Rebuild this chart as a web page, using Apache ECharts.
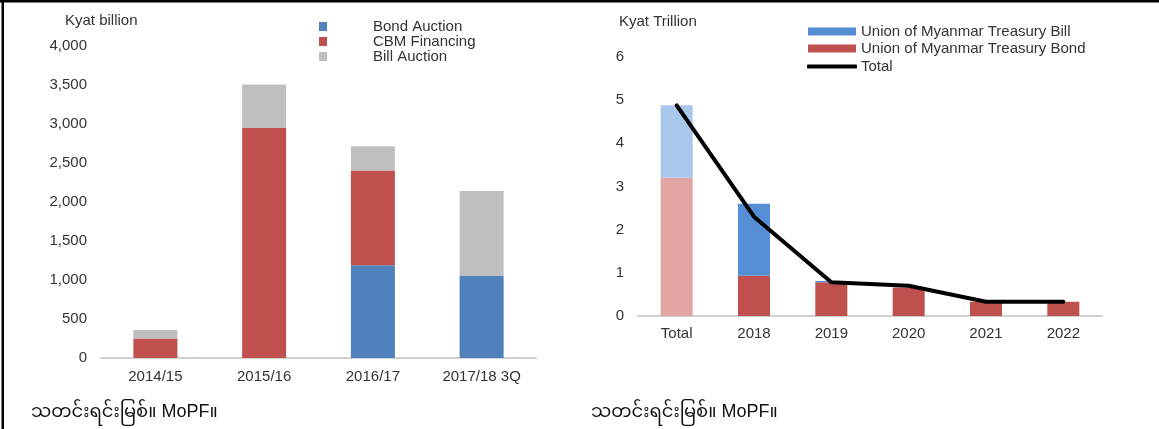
<!DOCTYPE html>
<html>
<head>
<meta charset="utf-8">
<script src="https://cdn.jsdelivr.net/npm/echarts@6/dist/echarts.min.js"></script>
<style>
  html, body { margin: 0; padding: 0; background: #fff; }
  #main { width: 1159px; height: 429px; }
</style>
</head>
<body>
<div id="main"></div>
<script>
// left panel - Kyat billion
var yearsL = ['2014/15', '2015/16', '2016/17', '2017/18 3Q'];
var bondAuction = [0, 0, 1190, 1050];
var cbmFinancing = [250, 2950, 1215, 0];
var billAuction = [110, 555, 310, 1090];

// right panel - Kyat Trillion
var yearsR = ['Total', '2018', '2019', '2020', '2021', '2022'];
var treasuryBill = [1.68, 1.67, 0.03, 0, 0, 0];
var treasuryBond = [3.2, 0.93, 0.78, 0.66, 0.33, 0.33];
var totalLine = [4.88, 2.3, 0.78, 0.7, 0.33, 0.33];

var sourceText = 'သတင်းရင်းမြစ်။ MoPF။';
var FONT = '"Liberation Sans", Arial, "Noto Sans Myanmar", Padauk, sans-serif';

var chart = echarts.init(document.getElementById('main'));

var option = {
  animation: false,
  textStyle: { fontFamily: FONT },
  title: [
    { text: 'Kyat billion', left: 65, top: 13, padding: 0,
      textStyle: { fontSize: 15, fontWeight: 'normal', color: '#333', fontFamily: FONT } },
    { text: 'Kyat Trillion', left: 619, top: 14, padding: 0,
      textStyle: { fontSize: 15, fontWeight: 'normal', color: '#333', fontFamily: FONT } }
  ],
  legend: [
    {
      // left legend
      orient: 'vertical', left: 319, top: 19, padding: 0,
      icon: 'rect', itemWidth: 8, itemHeight: 9, itemGap: 0,
      data: ['Bond Auction', 'CBM Financing', 'Bill Auction'],
      textStyle: { fontSize: 15, color: '#333', lineHeight: 15, padding: [0, 0, 0, 41], fontFamily: FONT }
    },
    {
      orient: 'vertical', left: 808, top: 23, padding: 0,
      icon: 'rect', itemWidth: 48, itemHeight: 8, itemGap: 0,
      data: ['Union of Myanmar Treasury Bill', 'Union of Myanmar Treasury Bond'],
      textStyle: { fontSize: 15, color: '#333', lineHeight: 17, fontFamily: FONT }
    },
    {
      orient: 'vertical', left: 807, top: 58, padding: 0,
      icon: 'roundRect', itemWidth: 50, itemHeight: 4, itemGap: 0,
      data: ['Total'],
      textStyle: { fontSize: 15, color: '#333', lineHeight: 17, padding: [0, 0, 0, -1], fontFamily: FONT }
    }
  ],
  grid: [
    { left: 101, top: 46, width: 435, height: 312 },
    { left: 638, top: 57, width: 464, height: 259 }
  ],
  xAxis: [
    {
      gridIndex: 0, type: 'category', data: yearsL,
      axisLine: { lineStyle: { color: '#D0D0D0', width: 2 } },
      axisTick: { show: false },
      axisLabel: { fontSize: 15, color: '#333', margin: 11, fontFamily: FONT }
    },
    {
      gridIndex: 1, type: 'category', data: yearsR,
      axisLine: { lineStyle: { color: '#D0D0D0', width: 2 } },
      axisTick: { show: false },
      axisLabel: { fontSize: 15, color: '#333', margin: 10, fontFamily: FONT }
    }
  ],
  yAxis: [
    {
      gridIndex: 0, type: 'value', min: 0, max: 4000, interval: 500,
      splitLine: { show: false }, axisLine: { show: false }, axisTick: { show: false },
      axisLabel: {
        fontSize: 15, color: '#333', margin: 14, fontFamily: FONT,
        formatter: function (v) { return v.toLocaleString('en-US'); }
      }
    },
    {
      gridIndex: 1, type: 'value', min: 0, max: 6, interval: 1,
      splitLine: { show: false }, axisLine: { show: false }, axisTick: { show: false },
      axisLabel: { fontSize: 15, color: '#333', margin: 14, fontFamily: FONT }
    }
  ],
  series: [
    { name: 'Bond Auction', type: 'bar', stack: 'l', xAxisIndex: 0, yAxisIndex: 0,
      barWidth: 44, data: bondAuction, itemStyle: { color: '#4F81BD' } },
    { name: 'CBM Financing', type: 'bar', stack: 'l', xAxisIndex: 0, yAxisIndex: 0,
      barWidth: 44, data: cbmFinancing, itemStyle: { color: '#C0504D' } },
    { name: 'Bill Auction', type: 'bar', stack: 'l', xAxisIndex: 0, yAxisIndex: 0,
      barWidth: 44, data: billAuction, itemStyle: { color: '#BFBFBF' } },

    { name: 'Union of Myanmar Treasury Bond', type: 'bar', stack: 'r', xAxisIndex: 1, yAxisIndex: 1,
      barWidth: 32, itemStyle: { color: '#C0504D' },
      data: treasuryBond.map(function (v, i) {
        return i === 0 ? { value: v, itemStyle: { color: '#E2A5A4' } } : v;
      }) },
    { name: 'Union of Myanmar Treasury Bill', type: 'bar', stack: 'r', xAxisIndex: 1, yAxisIndex: 1,
      barWidth: 32, itemStyle: { color: '#558ED5' },
      data: treasuryBill.map(function (v, i) {
        return i === 0 ? { value: v, itemStyle: { color: '#A9C6EC' } } : v;
      }) },
    { name: 'Total', type: 'line', xAxisIndex: 1, yAxisIndex: 1, data: totalLine,
      symbol: 'none', z: 5, itemStyle: { color: '#000' },
      lineStyle: { color: '#000', width: 4, cap: 'round', join: 'round' } }
  ],
  graphic: [
    // panel frame
    { type: 'rect', shape: { x: 0, y: 0, width: 1159, height: 2.5 }, style: { fill: '#000' } },
    { type: 'rect', shape: { x: 1.5, y: 0, width: 2.5, height: 429 }, style: { fill: '#000' } },
    { type: 'text', left: 31, top: 403,
      style: { text: sourceText, fontSize: 18, fill: '#111', fontFamily: FONT } },
    { type: 'text', left: 591, top: 403,
      style: { text: sourceText, fontSize: 18, fill: '#111', fontFamily: FONT } }
  ]
};

option && chart.setOption(option);
</script>
</body>
</html>
